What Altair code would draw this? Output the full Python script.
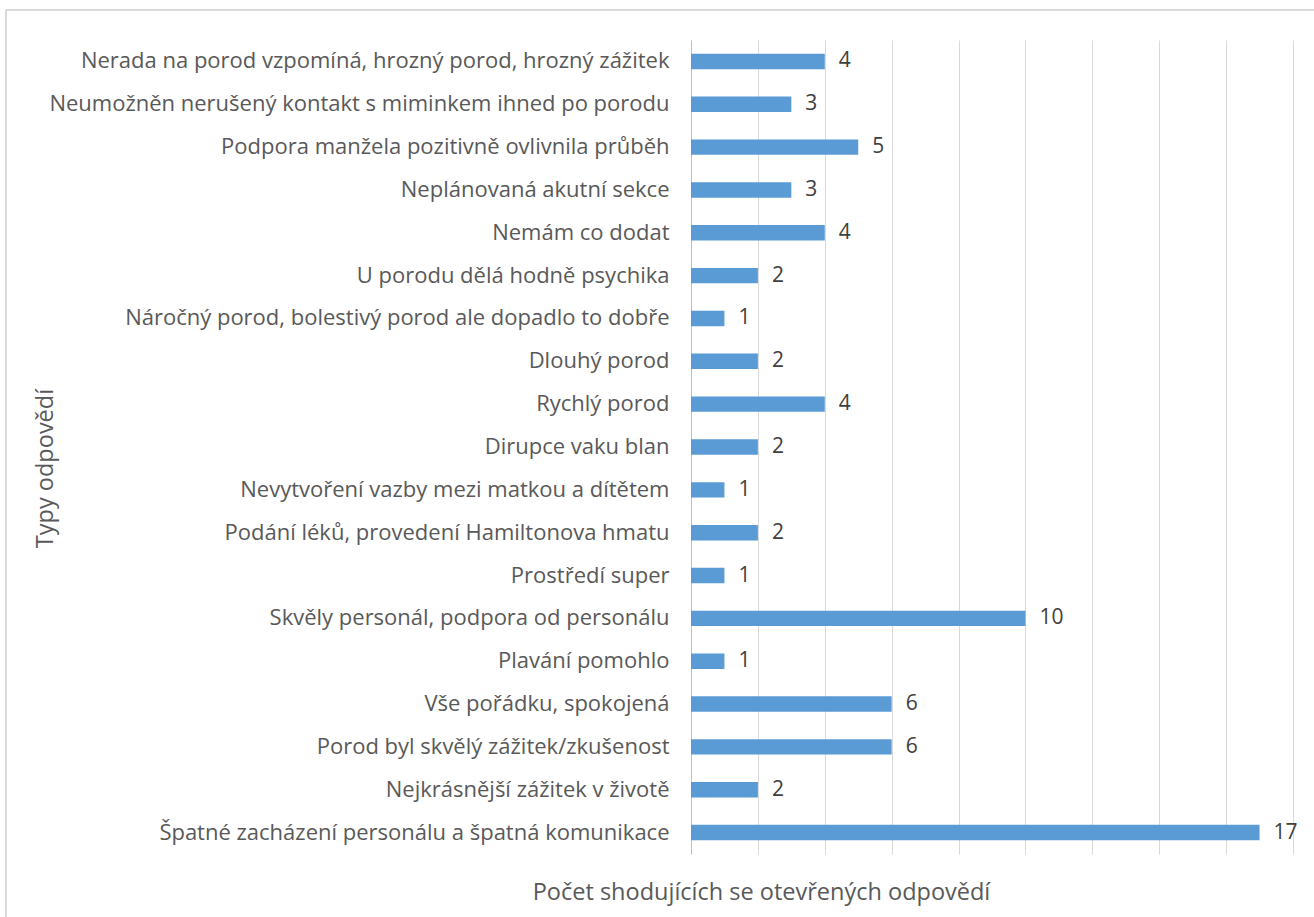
import altair as alt
import pandas as pd

categories = [
    "Nerada na porod vzpomíná, hrozný porod, hrozný zážitek",
    "Neumožněn nerušený kontakt s miminkem ihned po porodu",
    "Podpora manžela pozitivně ovlivnila průběh",
    "Neplánovaná akutní sekce",
    "Nemám co dodat",
    "U porodu dělá hodně psychika",
    "Náročný porod, bolestivý porod ale dopadlo to dobře",
    "Dlouhý porod",
    "Rychlý porod",
    "Dirupce vaku blan ",
    "Nevytvoření vazby mezi matkou a dítětem",
    "Podání léků, provedení Hamiltonova hmatu",
    "Prostředí super",
    "Skvěly personál, podpora od personálu",
    "Plavání pomohlo",
    "Vše pořádku, spokojená",
    "Porod byl skvělý zážitek/zkušenost",
    "Nejkrásnější zážitek v životě",
    "Špatné zacházení personálu a špatná komunikace",
]
values = [4, 3, 5, 3, 4, 2, 1, 2, 4, 2, 1, 2, 1, 10, 1, 6, 6, 2, 17]
x_ticks = [0, 2, 4, 6, 8, 10, 12, 14, 16, 18]

df = pd.DataFrame({"kategorie": categories, "pocet": values})

FONT = "Open Sans"
TXT = "#595959"

y_enc = alt.Y(
    "kategorie:N",
    sort=categories,
    scale=alt.Scale(paddingInner=0.64, paddingOuter=0.32),
    axis=alt.Axis(
        title="Typy odpovědí",
        titleFont=FONT, titleFontSize=23.5, titleFontWeight="normal", titleColor=TXT,
        titleAngle=-90, titleX=-646, titleY=428, titleAlign="center", titleBaseline="middle",
        labelFont=FONT, labelFontSize=22, labelColor=TXT, labelPadding=22, labelLimit=700,
        ticks=False, domain=True, domainColor="#BFBFBF", domainWidth=1,
    ),
)
x_enc = alt.X(
    "pocet:Q",
    scale=alt.Scale(domain=[0, 18], nice=False),
    axis=alt.Axis(
        values=x_ticks, labels=False, ticks=False, domain=False,
        grid=True, gridColor="#D9D9D9", gridWidth=1,
        title="Počet shodujících se otevřených odpovědí",
        titleFont=FONT, titleFontSize=23.5, titleFontWeight="normal", titleColor=TXT,
        titleX=70, titleY=38, titleAlign="center", titleBaseline="middle",
    ),
)

bars = alt.Chart(df).mark_bar(color="#5B9BD5").encode(y=y_enc, x=x_enc)
labels = alt.Chart(df).mark_text(
    align="left", baseline="middle", dx=14, font=FONT, fontSize=21, color="#404040"
).encode(y=alt.Y("kategorie:N", sort=categories), x="pocet:Q", text="pocet:Q")

frame = alt.Chart(df).mark_rect(fill=None, stroke="#D9D9D9", strokeWidth=1).encode(
    x=alt.value(-685), x2=alt.value(640), y=alt.value(-30), y2=alt.value(900)
)

chart = (
    alt.layer(frame, bars, labels)
    .properties(
        width=602,
        height=814,
        autosize=alt.AutoSizeParams(type="none"),
        padding={"left": 691, "top": 40, "right": 21, "bottom": 63},
        background="white",
    )
    .configure_view(stroke=None)
)
chart.save("out.html", embed_options={"renderer": "svg", "actions": False})
